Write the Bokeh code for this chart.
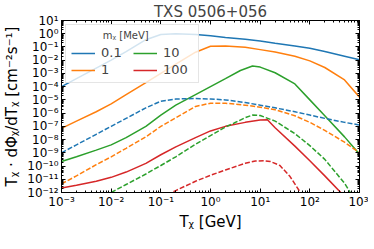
from bokeh.plotting import figure
from bokeh.models import (FixedTicker, LogAxis, CustomJSTickFormatter, Legend,
                          LegendItem, Range1d, Title)
from bokeh.embed import file_html
from bokeh.resources import INLINE

# ---- data ----
T_common = [1e-3, 2e-3, 5e-3, 1e-2, 2e-2, 5e-2, 0.1, 0.2, 0.5, 1, 2, 5, 10, 20, 50, 100, 200, 500, 1000]

blue_solid = [1.0e-4, 4.0e-4, 2.5e-3, 1.0e-2, 4.5e-2, 0.355, 0.87, 0.98, 0.89, 0.71,
              0.525, 0.38, 0.28, 0.19, 0.12, 0.079, 0.045, 0.020, 0.0107]
orange_solid = [7.1e-8, 2.5e-7, 1.26e-6, 5.0e-6, 2.5e-5, 2.0e-4, 1.0e-3, 5.0e-3, 0.04, 0.112,
                0.117, 0.095, 0.063, 0.042, 0.020, 8.9e-3, 2.8e-3, 3.2e-4, 1.6e-5]

T_green = [1e-3, 2e-3, 5e-3, 1e-2, 2e-2, 5e-2, 0.1, 0.2, 0.5, 1, 2, 4, 7, 10, 20, 50, 100, 200, 500, 1000]
green_solid = [2.2e-10, 5.0e-10, 1.6e-9, 4.0e-9, 1.4e-8, 1.0e-7, 7.1e-7, 4.0e-6, 2.5e-5, 1.0e-4,
               4.0e-4, 1.66e-3, 3.6e-3, 3.0e-3, 1.12e-3, 1.6e-4, 1.0e-5, 6.3e-7, 1.6e-8, 7.9e-10]

T_red = [1e-3, 2e-3, 5e-3, 1e-2, 2e-2, 5e-2, 0.1, 0.2, 0.5, 1, 2, 5, 10, 14, 20, 50, 100, 200, 500]
red_solid = [2.2e-12, 3.5e-12, 7.1e-12, 1.4e-11, 3.5e-11, 1.6e-10, 7.1e-10, 2.8e-9, 1.4e-8, 4.5e-8,
             1.0e-7, 2.0e-7, 3.0e-7, 3.2e-7, 7.9e-8, 3.2e-9, 2.5e-10, 1.8e-11, 5.0e-13]

blue_dashed = [1.0e-9, 4.0e-9, 2.5e-8, 1.0e-7, 4.0e-7, 2.5e-6, 7.9e-6, 1.17e-5, 1.26e-5, 1.17e-5,
               1.0e-5, 6.3e-6, 4.0e-6, 2.5e-6, 1.26e-6, 7.1e-7, 4.0e-7, 2.0e-7, 1.26e-7]
orange_dashed = [4.5e-12, 1.8e-11, 1.26e-10, 5.0e-10, 2.2e-9, 1.6e-8, 1.0e-7, 4.5e-7, 3.2e-6, 5.6e-6,
                 5.6e-6, 4.0e-6, 2.8e-6, 1.8e-6, 6.3e-7, 2.0e-7, 5.0e-8, 6.3e-9, 1.0e-9]

T_green_d = [1e-2, 2e-2, 5e-2, 0.1, 0.2, 0.5, 1, 2, 3, 5, 7, 10, 20, 50, 100, 200, 500, 700]
green_dashed = [1.0e-12, 4.0e-12, 2.5e-11, 1.1e-10, 5.0e-10, 4.5e-9, 2.0e-8, 8.9e-8, 1.8e-7, 4.5e-7,
                7.1e-7, 6.6e-7, 2.5e-7, 2.8e-8, 3.5e-9, 3.2e-10, 5.0e-12, 6.3e-13]

T_red_d = [0.1, 0.2, 0.5, 1, 2, 5, 8, 12, 16, 25, 40, 70]
red_dashed = [4.0e-13, 1.4e-12, 7.1e-12, 2.0e-11, 5.0e-11, 1.6e-10, 2.4e-10, 2.5e-10, 2.2e-10,
              1.1e-10, 1.6e-11, 6.3e-13]

masses = ["0.1", "1", "10", "100"]
colors = ["#1f77b4", "#ff7f0e", "#2ca02c", "#d62728"]

x_major = [10.0 ** k for k in range(-3, 4)]
x_minor = [m * 10.0 ** k for k in range(-3, 3) for m in range(2, 10)]
y_major = [10.0 ** k for k in range(-12, 2)]
y_minor = [m * 10.0 ** k for k in range(-12, 1) for m in range(2, 10)]

FONT = "DejaVu Sans"

p = figure(frame_width=298, height=233, x_axis_type="log", y_axis_type="log",
           x_range=Range1d(1e-3, 1e3), y_range=Range1d(1e-12, 10),
           output_backend="svg", toolbar_location=None,
           min_border_left=51, min_border_right=9, min_border_top=14, min_border_bottom=31)

p.title = Title(text="TXS 0506+056", align="center", text_font=FONT,
                text_font_size="15px", text_font_style="normal", standoff=0,
                text_line_height=1.0)

p.background_fill_color = "white"
p.border_fill_color = "white"
p.outline_line_color = "black"
p.outline_line_width = 1
p.grid.visible = False

fmt = CustomJSTickFormatter(code="""
const e = Math.round(Math.log10(tick));
const m = {"-":"\u207b","0":"\u2070","1":"\u00b9","2":"\u00b2","3":"\u00b3","4":"\u2074",
           "5":"\u2075","6":"\u2076","7":"\u2077","8":"\u2078","9":"\u2079"};
return "10" + String(e).split("").map(c => m[c]).join("");
""")
blank = CustomJSTickFormatter(code="return '';")

def style_axis(ax, show_labels=True):
    ax.major_tick_in = 4
    ax.major_tick_out = 0
    ax.minor_tick_in = 2
    ax.minor_tick_out = 0
    ax.axis_line_color = "black"
    ax.major_tick_line_color = "black"
    ax.minor_tick_line_color = "black"
    ax.major_label_text_font = FONT
    ax.major_label_text_color = "black"
    ax.major_label_text_font_size = "12px"
    ax.major_label_text_line_height = 1.0
    if show_labels:
        ax.major_label_standoff = 3
    else:
        ax.formatter = blank
        ax.major_label_standoff = 0
        ax.axis_label_standoff = 0

xt = FixedTicker(ticks=x_major, minor_ticks=x_minor)
yt = FixedTicker(ticks=y_major, minor_ticks=y_minor)

p.xaxis.ticker = xt
p.yaxis.ticker = yt
p.xaxis.formatter = fmt
p.yaxis.formatter = fmt
style_axis(p.xaxis[0])
style_axis(p.yaxis[0])

p.xaxis.axis_label = "T\u1d6a [GeV]"
p.yaxis.axis_label = "T\u1d6a \u00b7 d\u03a6\u1d6a/dT\u1d6a [cm\u207b\u00b2s\u207b\u00b9]"
for ax in (p.xaxis[0], p.yaxis[0]):
    ax.axis_label_text_font = FONT
    ax.axis_label_text_font_size = "15px"
    ax.axis_label_text_font_style = "normal"
    ax.axis_label_text_color = "black"
    ax.axis_label_text_line_height = 1.0
p.xaxis[0].axis_label_standoff = 1
p.xaxis[0].major_label_standoff = 2
p.yaxis[0].axis_label_standoff = 3

top_ax = LogAxis(ticker=FixedTicker(ticks=x_major, minor_ticks=x_minor))
style_axis(top_ax, show_labels=False)
p.add_layout(top_ax, "above")
right_ax = LogAxis(ticker=FixedTicker(ticks=y_major, minor_ticks=y_minor))
style_axis(right_ax, show_labels=False)
p.add_layout(right_ax, "right")

LW = 1.5
DASH = "5 2"
r_bs = p.line(T_common, blue_solid, line_color=colors[0], line_width=LW)
r_os = p.line(T_common, orange_solid, line_color=colors[1], line_width=LW)
r_gs = p.line(T_green, green_solid, line_color=colors[2], line_width=LW)
r_rs = p.line(T_red, red_solid, line_color=colors[3], line_width=LW)
p.line(T_common, blue_dashed, line_color=colors[0], line_width=LW, line_dash=DASH)
p.line(T_common, orange_dashed, line_color=colors[1], line_width=LW, line_dash=DASH)
p.line(T_green_d, green_dashed, line_color=colors[2], line_width=LW, line_dash=DASH)
p.line(T_red_d, red_dashed, line_color=colors[3], line_width=LW, line_dash=DASH)

legend = Legend(items=[LegendItem(label=masses[0], renderers=[r_bs]),
                       LegendItem(label=masses[1], renderers=[r_os]),
                       LegendItem(label=masses[2], renderers=[r_gs]),
                       LegendItem(label=masses[3], renderers=[r_rs])],
                location="top_left", ncols=2,
                title="\u00a0" * 10 + "m\u1d6a [MeV]")
legend.title_text_font = FONT
legend.title_text_font_size = "10px"
legend.title_text_font_style = "normal"
legend.title_standoff = 4
legend.label_text_font = FONT
legend.label_text_font_size = "13px"
legend.label_height = 12
legend.label_width = 30
legend.glyph_height = 12
legend.glyph_width = 24
legend.label_standoff = 6
legend.spacing = 2
legend.padding = 5
legend.margin = 4
legend.background_fill_alpha = 0.8
legend.border_line_color = "#cccccc"
legend.border_line_width = 1
p.add_layout(legend, "center")

open("out.html", "w").write(file_html(p, INLINE))
